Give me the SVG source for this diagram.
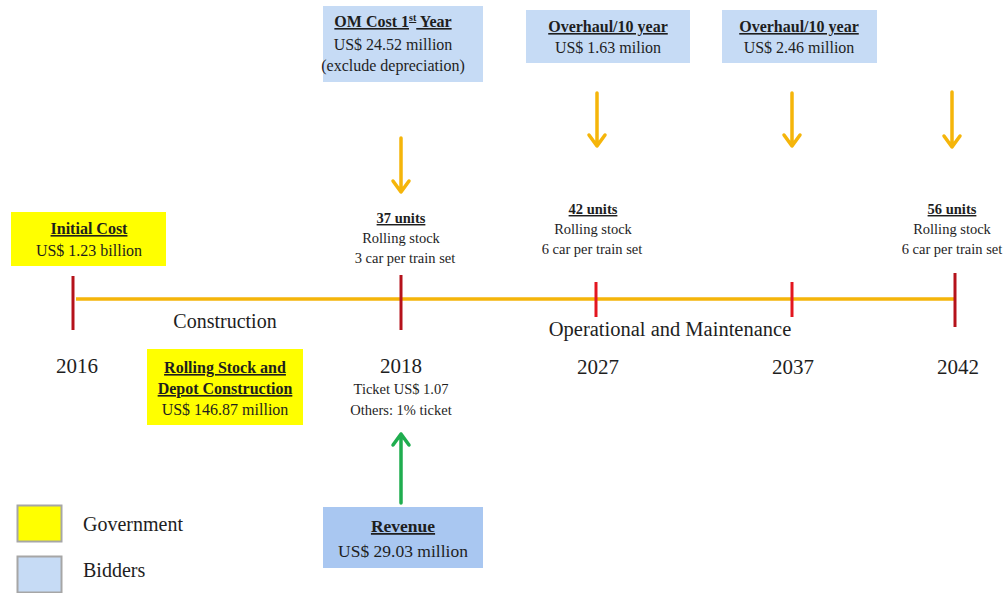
<svg xmlns="http://www.w3.org/2000/svg" width="1005" height="593" viewBox="0 0 1005 593">
<defs>
<style>
text{font-family:"Liberation Serif","Times New Roman",serif;fill:#1e1e1e;text-anchor:middle}
.b{font-weight:bold;text-decoration:underline}
.s16{font-size:16px}
.s14{font-size:14.5px}
.gov{fill:#ffff00}
.bid{fill:#c6dbf5}
.rev{fill:#a9c7f1}
.yarr{stroke:#f5b50a;stroke-width:3.5;fill:none;stroke-linecap:round;stroke-linejoin:round}
.garr{stroke:#1fad4f;stroke-width:3.5;fill:none;stroke-linecap:round;stroke-linejoin:round}
.tickd{stroke:#b5121b;stroke-width:3}
.tickb{stroke:#e3161f;stroke-width:3}
.year{font-size:21px}
.leg{text-anchor:start;font-size:20px}
</style>
</defs>
<rect width="1005" height="593" fill="#ffffff"/>

<g id="connectors">
<line x1="76" y1="299" x2="955" y2="299" stroke="#f5b50a" stroke-width="3.5"/>
<line class="tickd" x1="73" y1="276" x2="73" y2="330"/>
<line class="tickd" x1="401" y1="275" x2="401" y2="330"/>
<line class="tickb" x1="596" y1="282" x2="596" y2="317"/>
<line class="tickb" x1="792" y1="282" x2="792" y2="317"/>
<line class="tickd" x1="955" y1="273" x2="955" y2="327"/>
<path class="yarr" d="M401 138 V192 M393 181 L401 192 L409 181"/>
<path class="yarr" d="M597 93 V146 M589 135 L597 146 L605 135"/>
<path class="yarr" d="M792 93 V146 M784 135 L792 146 L800 135"/>
<path class="yarr" d="M952 92 V147 M944 136 L952 147 L960 136"/>
<path class="garr" d="M401 503 V434 M393 445 L401 434 L409 445"/>
</g>

<g id="initial-cost">
<rect class="gov" x="11" y="212" width="155" height="54"/>
<text class="s16 b" x="89" y="234">Initial Cost</text>
<text class="s16" x="89" y="256">US$ 1.23 billion</text>
</g>

<g id="rolling-stock-depot">
<rect class="gov" x="147" y="349" width="156" height="76"/>
<text class="s16 b" x="225" y="373">Rolling Stock and</text>
<text class="s16 b" x="225" y="394">Depot Construction</text>
<text class="s16" x="225" y="415">US$ 146.87 million</text>
</g>

<g id="om-cost">
<rect class="bid" x="323" y="6" width="160" height="76"/>
<text class="s16 b" x="393" y="27">OM Cost 1<tspan font-size="10" dy="-6">st</tspan><tspan dy="6"> Year</tspan></text>
<text class="s16" x="393" y="50">US$ 24.52 million</text>
<text class="s16" x="393" y="71">(exclude depreciation)</text>
</g>

<g id="overhaul-2027">
<rect class="bid" x="526" y="10" width="164" height="53"/>
<text class="s16 b" x="608" y="32">Overhaul/10 year</text>
<text class="s16" x="608" y="53">US$ 1.63 milion</text>
</g>

<g id="overhaul-2037">
<rect class="bid" x="722" y="10" width="155" height="53"/>
<text class="s16 b" x="799" y="32">Overhaul/10 year</text>
<text class="s16" x="799" y="53">US$ 2.46 million</text>
</g>

<g id="units-2018">
<text class="s14 b" x="401" y="223">37 units</text>
<text class="s14" x="401" y="243">Rolling stock</text>
<text class="s14" x="405" y="263">3 car per train set</text>
</g>

<g id="units-2027">
<text class="s14 b" x="593" y="214">42 units</text>
<text class="s14" x="593" y="234">Rolling stock</text>
<text class="s14" x="592" y="254">6 car per train set</text>
</g>

<g id="units-2042">
<text class="s14 b" x="952" y="214">56 units</text>
<text class="s14" x="952" y="234">Rolling stock</text>
<text class="s14" x="952" y="254">6 car per train set</text>
</g>

<g id="labels">
<text x="225" y="328" font-size="20">Construction</text>
<text x="670" y="336" font-size="20.5">Operational and Maintenance</text>
<text class="year" x="77" y="373">2016</text>
<text class="year" x="401" y="373">2018</text>
<text class="year" x="598" y="374">2027</text>
<text class="year" x="793" y="374">2037</text>
<text class="year" x="958" y="374">2042</text>
</g>

<g id="ticket">
<text class="s14" x="401" y="394">Ticket US$ 1.07</text>
<text class="s14" x="401" y="415">Others: 1% ticket</text>
</g>

<g id="revenue">
<rect class="rev" x="323" y="507" width="160" height="61"/>
<text class="b" x="403" y="532" font-size="17.5">Revenue</text>
<text x="403" y="557" font-size="17.5">US$ 29.03 million</text>
</g>

<g id="legend">
<rect x="17.5" y="505.5" width="44" height="36" fill="#ffff00" stroke="#a6a6a6" stroke-width="2"/>
<text class="leg" x="83" y="531">Government</text>
<rect x="17.5" y="556.5" width="44" height="36" fill="#c6dbf5" stroke="#a6a6a6" stroke-width="2"/>
<text class="leg" x="83" y="577">Bidders</text>
</g>
</svg>
